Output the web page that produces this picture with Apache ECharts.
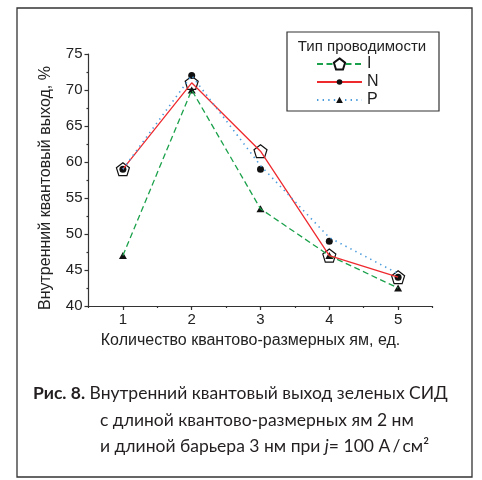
<!DOCTYPE html>
<html>
<head>
<meta charset="utf-8">
<script src="https://cdn.jsdelivr.net/npm/echarts@6/dist/echarts.min.js"></script>
<style>
  html, body { margin: 0; padding: 0; background: #fff; }
  #chart { width: 482px; height: 480px; }
</style>
</head>
<body>
<div id="chart"></div>
<script>
// Number of quantum wells (x) and internal quantum efficiency, % (y)
const wells = [1, 2, 3, 4, 5];
const xTicks = [1, 2, 3, 4, 5];
const seriesI = [47, 70, 53.5, 47, 42.5];
const seriesN = [59, 71, 61.5, 47, 44];
const seriesP = [59, 72, 59.5, 49.5, 44.5];
const dotValues = [59, 72, 59, 49, 44];
const legendNames = ['I', 'N', 'P'];

const FONT = 'Liberation Sans, Arial, sans-serif';
const INK = '#222';
const CAP = '#231f20';
const CAP_SIZE = 17.5;

const pentagon = 'path://M50 0L97.55 34.55L79.39 90.45L20.61 90.45L2.45 34.55Z';
// padded shapes so that the legend keeps the small markers small
const legendDot = 'path://M0 0M100 100M75 50A25 25 0 1 1 25 50A25 25 0 1 1 75 50Z';
const legendTri = 'path://M0 0M100 100M50 22L80 76L20 76Z';

const pts = vals => wells.map((w, i) => [w, vals[i]]);

const capText = { fill: CAP, fontSize: CAP_SIZE, fontFamily: 'Lato', verticalAlign: 'middle' };

const chart = echarts.init(document.getElementById('chart'), null, { renderer: 'canvas' });

chart.setOption({
  animation: false,
  backgroundColor: '#fff',
  textStyle: { fontFamily: FONT, color: INK },
  grid: { left: 88.5, right: 49.5, top: 54, bottom: 174, outerBoundsMode: 'none' },
  xAxis: [{
    type: 'value', min: 0.5, max: 5.5, interval: 0.5,
    axisLine: { onZero: false, lineStyle: { color: '#333', width: 1.2 } },
    axisTick: { customValues: xTicks, length: 4, lineStyle: { color: '#333', width: 1.2 } },
    axisLabel: { customValues: xTicks, fontSize: 15, color: INK, margin: 6, fontFamily: FONT },
    splitLine: { show: false },
    name: 'Количество квантово-размерных ям, ед.',
    nameLocation: 'middle', nameGap: 27,
    nameTextStyle: { fontSize: 16, color: INK, fontFamily: FONT, padding: [0, 20, 0, 0] }
  }, {
    type: 'value', min: 0.5, max: 5.5, interval: 0.5, position: 'bottom',
    axisLine: { show: false, onZero: false },
    axisTick: { length: 2, lineStyle: { color: '#333', width: 1.2 } },
    axisLabel: { show: false },
    splitLine: { show: false }
  }],
  yAxis: {
    type: 'value', min: 40, max: 75, interval: 5,
    axisLine: { show: true, onZero: false, lineStyle: { color: '#333', width: 1.2 } },
    axisTick: { show: true, length: 4, lineStyle: { color: '#333', width: 1.2 } },
    minorTick: { show: true, splitNumber: 2, length: 2, lineStyle: { color: '#333', width: 1.2 } },
    axisLabel: { fontSize: 15, color: INK, margin: 6, fontFamily: FONT },
    splitLine: { show: false },
    name: 'Внутренний квантовый выход, %',
    nameLocation: 'middle', nameGap: 35,
    nameTextStyle: { fontSize: 16, color: INK, fontFamily: FONT, padding: [0, 16, 0, 0] }
  },
  legend: {
    data: legendNames,
    orient: 'vertical',
    left: 311, top: 51,
    itemWidth: 45, itemHeight: 14, itemGap: 2,
    selectedMode: false,
    textStyle: { fontSize: 16, color: INK, fontFamily: FONT, lineHeight: 14 }
  },
  graphic: [
    { type: 'rect', shape: { x: 17, y: 8, width: 455, height: 469 },
      style: { fill: 'none', stroke: '#333', lineWidth: 1.3 }, silent: true },
    { type: 'rect', shape: { x: 287, y: 32, width: 152, height: 79 },
      style: { fill: 'none', stroke: '#333', lineWidth: 1.2 }, silent: true },
    { type: 'text', x: 362, y: 47,
      style: { text: 'Тип проводимости', fill: INK, fontSize: 15, fontFamily: FONT,
               align: 'center', verticalAlign: 'middle' }, silent: true },
    { type: 'text', x: 33, y: 393,
      style: Object.assign({}, capText, {
        text: '{b|Рис. 8.} Внутренний квантовый выход зеленых СИД',
        rich: { b: { fontWeight: 'bold', fontSize: CAP_SIZE, fontFamily: 'Lato', fill: CAP } } }), silent: true },
    { type: 'text', x: 100, y: 420,
      style: Object.assign({}, capText, { text: 'с длиной квантово-размерных ям 2 нм' }), silent: true },
    { type: 'text', x: 100, y: 446,
      style: Object.assign({}, capText, {
        text: 'и длиной барьера 3 нм при {i|j}= 100 А\u2009/\u2009см²',
        rich: { i: { fontStyle: 'italic', fontSize: CAP_SIZE, fontFamily: 'Lato', fill: CAP } } }), silent: true }
  ],
  series: [
    { name: 'I', type: 'line', data: pts(seriesI), showSymbol: false, symbol: pentagon,
      itemStyle: { color: '#fff', borderColor: '#111', borderWidth: 1.2 },
      lineStyle: { color: '#1ba14b', width: 1.3, type: [6, 3.5] } },
    { name: 'N', type: 'line', data: pts(seriesN), showSymbol: false, symbol: legendDot,
      itemStyle: { color: '#111' },
      lineStyle: { color: '#ee2a2f', width: 1.3, type: 'solid' } },
    { name: 'P', type: 'line', data: pts(seriesP), showSymbol: false, symbol: legendTri,
      itemStyle: { color: '#111' },
      lineStyle: { color: '#4a9bdc', width: 1.6, type: [1.4, 4.2] } },
    { name: 'pentagons', type: 'scatter', data: pts(seriesN), symbol: pentagon, symbolSize: 13,
      itemStyle: { color: '#fff', borderColor: '#111', borderWidth: 1.2, opacity: 1 } },
    { name: 'triangles', type: 'scatter', data: pts(seriesI), symbol: 'triangle', symbolSize: [8, 7],
      itemStyle: { color: '#111', opacity: 1 } },
    { name: 'dots', type: 'scatter', data: pts(dotValues), symbol: 'circle', symbolSize: 7,
      itemStyle: { color: '#111', opacity: 1 } }
  ]
});
</script>
</body>
</html>
